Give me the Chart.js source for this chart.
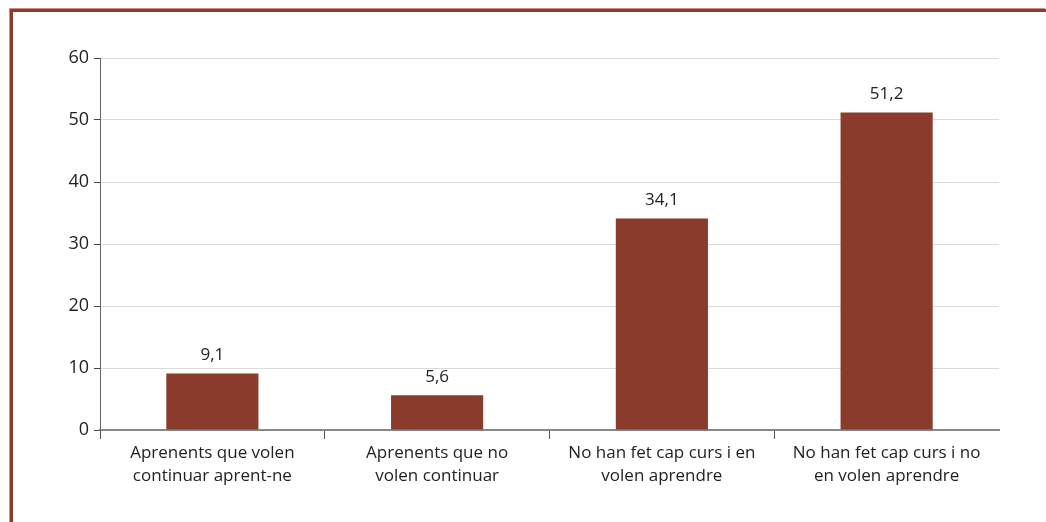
<!DOCTYPE html>
<html>
<head>
<meta charset="utf-8">
<script src="https://cdn.jsdelivr.net/npm/chart.js@4/dist/chart.umd.min.js"></script>
<style>
    html, body { margin: 0; padding: 0; background: #fff; }
    #wrap { position: relative; width: 1046px; height: 522px; overflow: hidden; }
    #frame {
        position: absolute; left: 10px; top: 9px; right: 0; bottom: -10px;
        border-left: 3px solid #8e3a2b; border-top: 3px solid #8e3a2b;
        box-shadow: -1px -1px 0 #c98f83;
    }
    #chart { position: absolute; left: 0; top: 0; }
</style>
</head>
<body>
<div id="wrap">
    <div id="frame"></div>
    <canvas id="chart" width="1046" height="522"></canvas>
</div>
<script>
var categories = [
    ["Aprenents que volen", "continuar aprent-ne"],
    ["Aprenents que no", "volen continuar"],
    ["No han fet cap curs i en", "volen aprendre"],
    ["No han fet cap curs i no", "en volen aprendre"]
];
var values = [9.1, 5.6, 34.1, 51.2];
var yTicks = [0, 10, 20, 30, 40, 50, 60];

var fontFamily = "'Open Sans', 'Noto Sans', sans-serif";

// write the value above each bar, with a comma as decimal mark
var barLabels = {
    id: 'barLabels',
    afterDatasetsDraw: function (chart) {
        var ctx = chart.ctx;
        var meta = chart.getDatasetMeta(0);
        ctx.save();
        ctx.font = "17px " + fontFamily;
        ctx.fillStyle = "#222";
        ctx.textAlign = "center";
        ctx.textBaseline = "bottom";
        meta.data.forEach(function (bar, i) {
            ctx.fillText(values[i].toFixed(1).replace('.', ','), bar.x, bar.y - 10);
        });
        ctx.restore();
    }
};

var ctx = document.getElementById("chart").getContext("2d");
var chart = new Chart(ctx, {
    type: 'bar',
    data: {
        labels: categories,
        datasets: [{
            data: values,
            backgroundColor: "#8a3b2b",
            borderWidth: 0,
            barPercentage: 0.82,
            categoryPercentage: 0.5
        }]
    },
    options: {
        responsive: false,
        animation: false,
        layout: { padding: { left: 0, top: 58, right: 47, bottom: 0 } },
        plugins: {
            legend: { display: false },
            tooltip: { enabled: false }
        },
        scales: {
            x: {
                grid: {
                    offset: true,
                    drawOnChartArea: false,
                    drawTicks: true,
                    tickLength: 9,
                    // no tick mark at the right end of the axis
                    tickColor: function (c) {
                        return c.type === 'tick' ? "#555" : "rgba(0,0,0,0)";
                    },
                    tickWidth: 1
                },
                border: { color: "#888", width: 2 },
                ticks: {
                    color: "#222",
                    font: { family: fontFamily, size: 17, lineHeight: 1.35 },
                    maxRotation: 0,
                    autoSkip: false,
                    padding: 3
                },
                afterFit: function (scale) { scale.height = 92; }
            },
            y: {
                min: 0,
                max: 60,
                afterBuildTicks: function (scale) {
                    scale.ticks = yTicks.map(function (v) { return { value: v }; });
                },
                grid: {
                    color: "#dadada",
                    borderDash: [3, 2],
                    tickColor: "#444",
                    tickBorderDash: [],
                    tickLength: 6,
                    lineWidth: 1
                },
                border: { color: "#666", width: 1 },
                ticks: {
                    color: "#222",
                    font: { family: fontFamily, size: 18 },
                    padding: 5
                },
                afterFit: function (scale) { scale.width = 100; }
            }
        }
    },
    plugins: [barLabels]
});
</script>
</body>
</html>
